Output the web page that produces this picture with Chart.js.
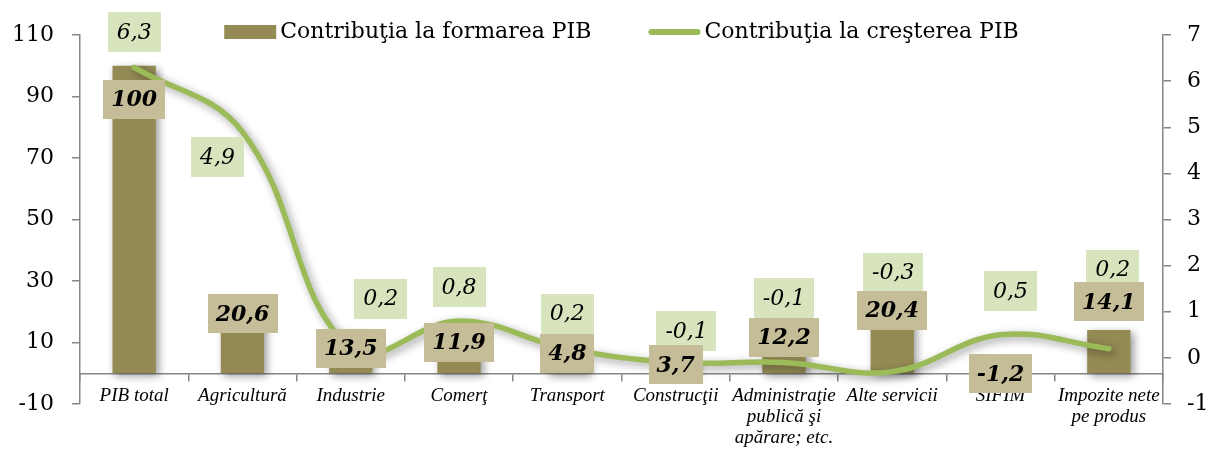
<!DOCTYPE html>
<html><head><meta charset="utf-8">
<script src="https://cdn.jsdelivr.net/npm/chart.js@4/dist/chart.umd.min.js"></script>
<style>html,body{margin:0;padding:0;background:#fff}</style>
</head><body>
<canvas id="c" width="1213" height="450"></canvas>
<script>
const categories = [["PIB total"],["Agricultură"],["Industrie"],["Comerţ"],["Transport"],["Construcţii"],["Administraţie","publică şi","apărare; etc."],["Alte servicii"],["SIFIM"],["Impozite nete","pe produs"]];
const formareValues = [100, 20.6, 13.5, 11.9, 4.8, 3.7, 12.2, 20.4, -1.2, 14.1];
const crestereValues = [6.3, 4.9, 0.2, 0.8, 0.2, -0.1, -0.1, -0.3, 0.5, 0.2];
const leftTicks = [-10, 10, 30, 50, 70, 90, 110];
const rightTicks = [-1, 0, 1, 2, 3, 4, 5, 6, 7];
const seriesNames = ["Contribuţia la formarea PIB", "Contribuţia la creşterea PIB"];

const FONT = '"DejaVu Serif", serif';
const CAT_FONT = '"Liberation Serif", serif';
const BAR_COLOR = '#948A54', BAR_LABEL_BG = '#C4BD97';
const LINE_COLOR = '#9BBB59', LINE_LABEL_BG = '#D7E4BD';
const AXIS_COLOR = '#868686';

// label nudges (pixels) relative to the mark position
const barLabelDy = [34, 4, 17, 6, -5, 3, 2, 0, -3, -28];
const lineLabelDx = [0, -25, 30, 0, 0, 11, 0, 1, 10, 4];
const lineLabelDy = [-35, 25, -50, -34, -35, -31, -64, -99, -44, -79];

function fmt(v){ return Number.isInteger(v) ? String(v) : v.toFixed(1).replace('.', ','); }

function drawBox(ctx, text, cx, cy, bg, font, padX, h){
  ctx.font = font;
  const w = ctx.measureText(text).width + 2*padX;
  ctx.fillStyle = bg;
  ctx.fillRect(Math.round(cx - w/2), Math.round(cy - h/2), Math.round(w), h);
  ctx.fillStyle = '#000';
  ctx.textAlign = 'center';
  ctx.textBaseline = 'middle';
  ctx.fillText(text, cx, cy + 1);
}

const shadowPlugin = {
  id: 'shadow',
  beforeDatasetDraw(chart){ const ctx = chart.ctx; ctx.save(); ctx.shadowColor = 'rgba(0,0,0,0.4)'; ctx.shadowBlur = 8; ctx.shadowOffsetX = 3; ctx.shadowOffsetY = 3; },
  afterDatasetDraw(chart){ chart.ctx.restore(); }
};

const labelPlugin = {
  id: 'boxLabels',
  afterDatasetsDraw(chart){
    const ctx = chart.ctx;
    const barMeta = chart.getDatasetMeta(0);
    const lineMeta = chart.getDatasetMeta(1);
    ctx.save();
    lineMeta.data.forEach((pt, i) => {
      drawBox(ctx, fmt(crestereValues[i]), pt.x + lineLabelDx[i], pt.y + lineLabelDy[i], LINE_LABEL_BG, 'italic 22px ' + FONT, 9, 40);
    });
    barMeta.data.forEach((bar, i) => {
      drawBox(ctx, fmt(formareValues[i]), bar.x, bar.y + barLabelDy[i], BAR_LABEL_BG, 'italic bold 22px ' + FONT, 8, 39);
    });
    ctx.restore();
  }
};

const legendPlugin = {
  id: 'customLegend',
  afterDraw(chart){
    const ctx = chart.ctx;
    ctx.save();
    ctx.font = '22px ' + FONT;
    const sw = 52, gap = 4, spacing = 57;
    const w0 = ctx.measureText(seriesNames[0]).width, w1 = ctx.measureText(seriesNames[1]).width;
    const total = sw + gap + w0 + spacing + sw + gap + w1;
    const area = chart.chartArea;
    let x = (area.left + area.right)/2 - total/2;
    const cy = 32;
    ctx.fillStyle = BAR_COLOR;
    ctx.fillRect(x, cy - 7, sw, 14);
    ctx.fillStyle = '#000'; ctx.textAlign = 'left'; ctx.textBaseline = 'middle';
    ctx.fillText(seriesNames[0], x + sw + gap, cy);
    x += sw + gap + w0 + spacing;
    ctx.strokeStyle = LINE_COLOR; ctx.lineWidth = 6; ctx.lineCap = 'round';
    ctx.beginPath(); ctx.moveTo(x + 3, cy); ctx.lineTo(x + sw - 3, cy); ctx.stroke();
    ctx.fillText(seriesNames[1], x + sw + gap, cy);
    ctx.restore();
  }
};

new Chart(document.getElementById('c'), {
  data: {
    labels: categories,
    datasets: [
      { type: 'bar', label: seriesNames[0], data: formareValues, yAxisID: 'y', backgroundColor: BAR_COLOR, barPercentage: 0.4, categoryPercentage: 1, order: 2 },
      { type: 'line', label: seriesNames[1], data: crestereValues, yAxisID: 'y1', borderColor: LINE_COLOR, borderWidth: 5.5, pointRadius: 0, tension: 0.4, fill: false, borderCapStyle: 'round', order: 1 }
    ]
  },
  options: {
    responsive: false,
    animation: false,
    devicePixelRatio: 1,
    layout: { padding: { top: 35, bottom: 46, left: 0, right: 0 } },
    plugins: { legend: { display: false }, tooltip: { enabled: false } },
    scales: {
      x: {
        position: { y: 0 },
        offset: true,
        grid: { display: true, drawOnChartArea: false, drawTicks: true, tickLength: 7, color: AXIS_COLOR, lineWidth: 1.5, offset: true },
        border: { display: true, color: AXIS_COLOR, width: 1.5 },
        ticks: { font: { family: CAT_FONT, size: 19, style: 'italic', lineHeight: 1.1 }, color: '#000', padding: 5, maxRotation: 0, autoSkip: false }
      },
      y: {
        position: 'left', min: leftTicks[0], max: leftTicks[leftTicks.length-1],
        afterBuildTicks(s){ s.ticks = leftTicks.map(v => ({ value: v })); },
        ticks: { font: { family: FONT, size: 22 }, color: '#000', padding: 18, callback: v => fmt(v) },
        grid: { drawOnChartArea: false, tickLength: 8, color: AXIS_COLOR, lineWidth: 1.5 },
        border: { color: AXIS_COLOR, width: 1.5 },
        afterFit(s){ s.width = 80; }
      },
      y1: {
        position: 'right', min: rightTicks[0], max: rightTicks[rightTicks.length-1],
        afterBuildTicks(s){ s.ticks = rightTicks.map(v => ({ value: v })); },
        ticks: { font: { family: FONT, size: 22 }, color: '#000', padding: 16, callback: v => fmt(v) },
        grid: { drawOnChartArea: false, tickLength: 8, color: AXIS_COLOR, lineWidth: 1.5 },
        border: { color: AXIS_COLOR, width: 1.5 },
        afterFit(s){ s.width = 50; }
      }
    }
  },
  plugins: [shadowPlugin, labelPlugin, legendPlugin]
});
</script>
</body></html>
